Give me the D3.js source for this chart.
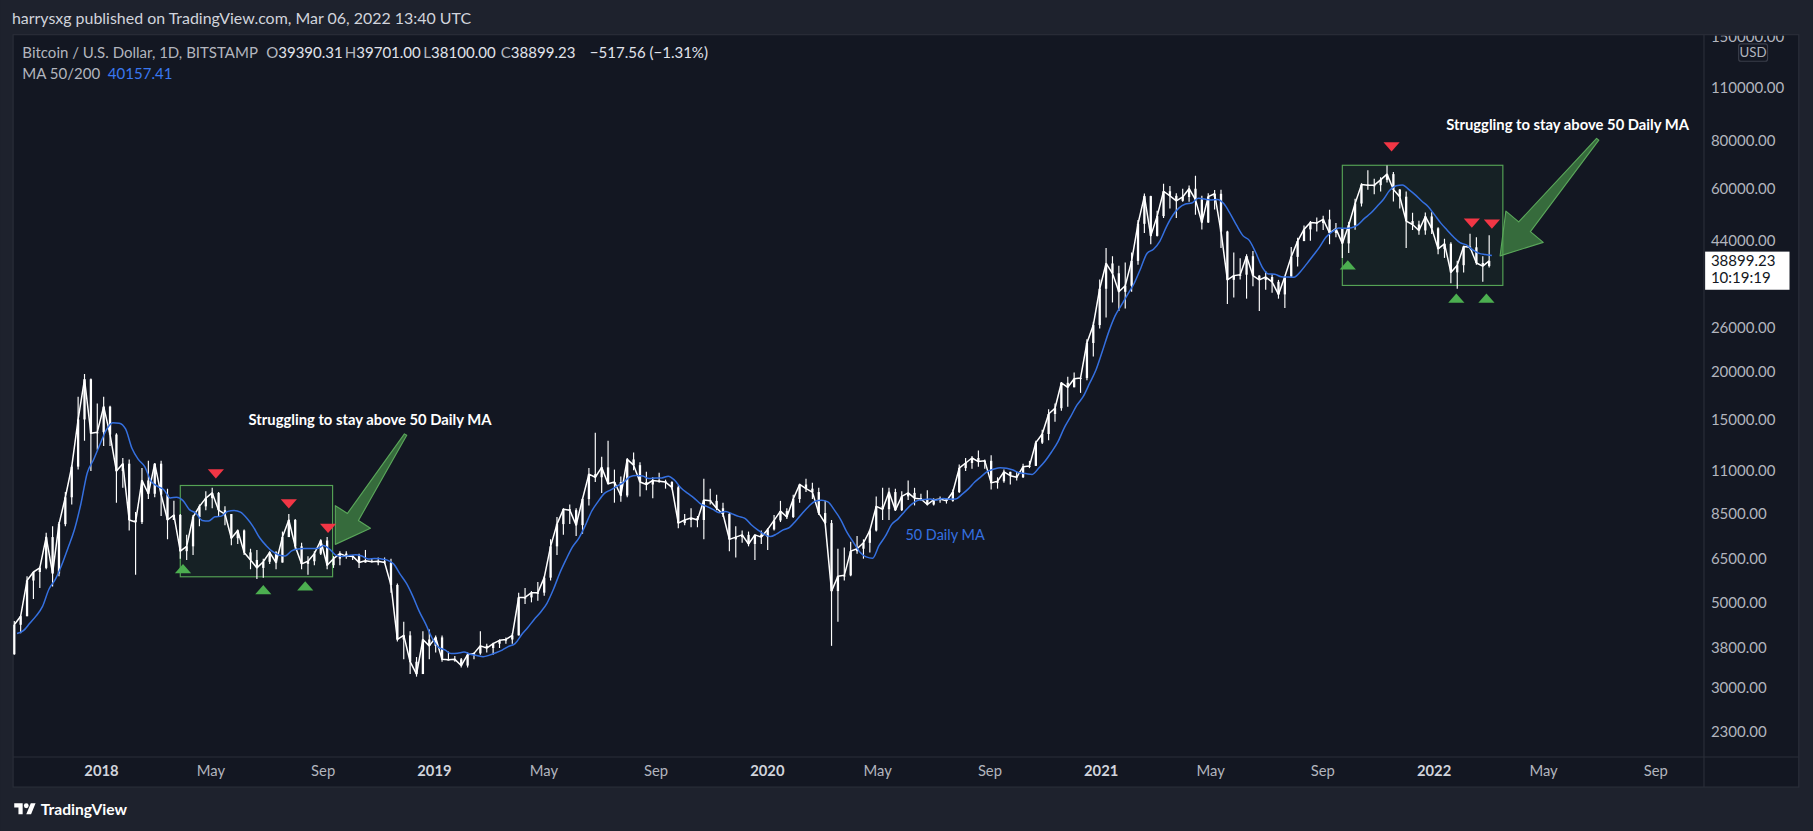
<!DOCTYPE html>
<html>
<head>
<meta charset="utf-8">
<title>BTCUSD 1D</title>
<script src="https://cdn.jsdelivr.net/npm/d3@7/dist/d3.min.js"></script>
<style>
  html, body { margin: 0; padding: 0; background: #1e222d; overflow: hidden; }
  svg { display: block; font-family: Lato, "Noto Sans", sans-serif; }
</style>
</head>
<body>
<svg id="chart"></svg>
<script>
// weekly candles (BITSTAMP BTCUSD), Mondays from firstWeek to lastWeek
const firstWeek = "2017-09-25", lastWeek = "2022-02-28";
const firstOpen = 3660;
const highs = [
  4470,4620,5850,6000,6200,7600,7900,8100,9700,11400,
  17200,19700,19200,16500,17200,16300,13800,11900,11800,8600,
  11200,11700,11500,11700,9900,9200,8500,7500,8450,9000,
  9750,9950,9700,8900,8500,7750,7750,6900,6850,6500,
  6800,6800,7650,8500,8250,7150,6600,6800,7300,7400,
  6600,6800,6800,6650,6700,6850,6500,6550,6550,6500,
  5600,4450,4200,3600,4200,4250,4100,4100,3720,3620,
  3580,3700,3700,4200,3900,3920,4000,4050,4150,5300,
  5450,5350,5650,5850,7300,8350,8800,9000,8800,9350,
  11200,13850,12000,13200,11100,10650,11900,12300,11600,10950,
  10600,10900,10450,10350,10100,8500,8800,8400,10500,9900,
  9550,9100,8550,7900,7700,7650,7500,7700,7800,8450,
  9200,8800,9550,10200,10500,10250,9950,9200,8200,6900,
  6950,7200,7450,7300,7750,9450,9950,9950,9900,9750,
  10400,9950,9600,9800,9350,9450,9350,9850,11450,11900,
  12050,12450,11800,12100,10600,11100,10950,10950,11500,11700,
  13200,14100,15950,16500,18800,19400,19900,19400,24300,27000,
  34800,42000,40000,37800,38500,40900,49700,58300,57500,52600,
  61800,61000,58400,60000,61200,64900,57500,58400,59500,59600,
  46600,40900,39500,40500,41300,35700,36600,35900,34700,35500,
  42300,44700,48100,49400,50500,51000,52900,48800,47400,49200,
  56500,62000,67000,63700,64300,69000,66300,59900,59000,51900,
  49500,52000,52100,47600,44400,43500,38900,42600,45800,44800,
  40000,45400
];
const lows = [
  3650,4150,4600,5100,5450,6100,5500,5850,7900,9000,
  11100,13200,11000,12500,12800,12800,9100,9950,7700,5900,
  8000,9300,9400,8400,7300,8200,6500,6450,6650,7900,
  8700,8800,8350,7950,7050,7100,6650,6100,5750,5800,
  6300,6100,6350,7400,6900,6100,5900,6250,6650,6100,
  6150,6250,6500,6450,6150,6350,6350,6250,6300,5300,
  3950,3550,3250,3200,3250,3550,3700,3500,3530,3500,
  3380,3380,3550,3650,3700,3650,3800,3900,3900,4100,
  4950,5000,5050,5200,5700,6650,7500,8000,7450,7550,
  8950,10300,9650,10150,9100,9150,9400,11050,9450,9800,
  9350,10250,9900,9850,7800,7950,7850,7850,7300,9000,
  8700,8350,6800,6550,7150,7000,6450,7100,6850,7700,
  8100,8250,8300,9100,9700,9300,8450,8000,3850,4450,
  5700,5850,6700,6500,6750,7650,8200,8200,8650,8650,
  9250,8950,9200,8950,8950,9100,9050,9150,9650,11000,
  11150,11300,11150,9850,9900,10250,10150,10400,10550,11200,
  11350,12950,13250,14800,15800,16200,18200,17600,19000,21900,
  25900,27700,30300,28800,29200,32300,38000,46000,43000,45000,
  50300,53300,50300,55500,55500,51300,47000,48800,53000,42000,
  30000,31200,34800,31000,33400,28800,32700,32100,31000,29300,
  35300,37600,43800,43900,46400,46800,43000,44800,39600,40800,
  46900,53900,59600,58000,59000,62300,55600,53300,42000,46800,
  45500,45500,45700,40500,39600,34000,32900,36300,41700,38000,
  34300,37400
];
const closes = [
  4370,4600,5700,6000,6150,7400,5950,8000,9400,11300,
  15000,19100,13800,13900,16200,13700,11000,11500,8200,8100,
  10400,9600,11500,9550,8200,8450,6800,7000,8350,8900,
  9350,9650,8700,8500,7350,7700,6750,6450,6150,6380,
  6750,6350,7400,8200,7000,6300,6400,6700,7250,6250,
  6500,6700,6600,6600,6350,6420,6380,6400,6350,5550,
  4000,4100,3500,3250,4000,3850,4050,3550,3540,3550,
  3420,3650,3680,3850,3800,3900,3980,4000,4100,5150,
  5150,5300,5300,5800,7000,8000,8750,8700,7950,9300,
  10800,10600,11250,10200,10300,9500,11800,11400,10300,10150,
  10400,10350,10300,9980,8050,8200,8300,8200,9250,9200,
  8800,8500,7300,7400,7500,7100,7500,7400,7750,8180,
  8650,8350,9300,10150,9900,9700,8550,8050,5350,5850,
  5880,6800,6900,7150,7700,8900,8750,9700,8700,9450,
  9650,9350,9300,9000,9250,9300,9200,9700,11200,11550,
  11900,11650,11700,10250,10350,10950,10700,10600,11300,11350,
  13050,13750,15500,16050,18700,18200,19150,19250,23750,26450,
  32900,38300,36100,32300,33500,38900,48600,57400,45200,50900,
  59100,57500,55800,57100,60000,56200,49000,57200,58200,46400,
  34700,35600,35800,40000,35600,34700,35300,34300,31800,35400,
  39850,43800,47000,49000,48850,49900,46000,47200,43200,48200,
  54900,61500,61300,61300,63300,65500,59700,57200,49400,48400,
  46700,50800,47300,41800,43100,36300,37900,42400,42200,38400,
  37700,38899.23
];
// 50 day MA, read at each week end
const ma50 = [
  4146,4217,4410,4610,4881,5410,5739,6257,6943,7743,
  9029,10879,11793,12929,14100,14714,14671,14171,12614,11800,
  11300,10357,10043,9836,9364,9400,9214,8729,8550,8179,
  8150,8357,8393,8636,8686,8593,8286,7871,7371,7040,
  6790,6647,6604,6811,6890,6911,6914,6907,7036,6871,
  6629,6586,6629,6657,6607,6489,6507,6493,6443,6293,
  5921,5600,5183,4736,4393,4036,3821,3757,3677,3684,
  3709,3659,3634,3606,3641,3693,3754,3837,3901,4111,
  4297,4511,4711,4971,5400,5957,6471,6979,7357,7929,
  8643,9157,9621,9829,10057,10279,10636,10721,10679,10521,
  10550,10557,10671,10411,9933,9633,9369,9054,8897,8740,
  8571,8636,8507,8379,8279,7971,7729,7529,7421,7547,
  7726,7847,8161,8540,8897,9176,9229,9143,8714,8221,
  7611,7169,6769,6569,6519,7026,7440,7986,8257,8621,
  8979,9214,9271,9307,9243,9329,9293,9300,9564,9886,
  10300,10643,10986,11136,11229,11193,11071,10886,10836,10786,
  11186,11671,12321,13086,14243,15229,16343,17229,18657,20221,
  22629,25429,27986,29864,31900,34064,37229,40729,41714,43829,
  47657,51086,53500,54714,55086,56657,56386,56114,56214,54871,
  51671,48186,45271,43986,40900,37543,35957,35900,35357,35300,
  35279,36450,38207,40164,42243,44829,46343,47393,47307,47479,
  48321,50129,51757,53943,56243,59429,61071,61400,59671,57829,
  55743,53957,51357,48800,46786,44914,43414,42800,41571,40700,
  40400,40157.41
];
const priceTicks = [150000, 110000, 80000, 60000, 44000, 26000, 20000, 15000, 11000, 8500, 6500, 5000, 3800, 3000, 2300];

// drawings on the chart, in date / price
const boxes = [
  {from: "2018-03-29", to: "2018-09-12", top: 10090, bottom: 5830},
  {from: "2021-09-23", to: "2022-03-18", top: 69080, bottom: 33560}
];
const sellMarks = [
  ["2018-05-07", 10820], ["2018-07-26", 9030], ["2018-09-07", 7800],
  ["2021-11-16", 77200], ["2022-02-12", 48800], ["2022-03-06", 48500]
];
const buyMarks = [
  ["2018-04-01", 6120], ["2018-06-28", 5400], ["2018-08-13", 5520],
  ["2021-09-29", 38000], ["2022-01-26", 31100], ["2022-02-28", 31100]
];
const notes = [
  ["2018-10-23", 15000, "Struggling to stay above 50 Daily MA"],
  ["2022-05-28", 88100, "Struggling to stay above 50 Daily MA"]
];
const arrows = [
  {tail: ["2018-12-01", 13700], tip: ["2018-09-15", 7085]},
  {tail: ["2022-06-30", 80770], tip: ["2022-03-15", 40070]}
];
const maLabel = ["2020-06-01", 7490, "50 Daily MA"];
const lastPrice = 38899.23, lastTime = "10:19:19";

const legendParts = [
  {x: 19, label: "Bitcoin / U.S. Dollar, 1D, BITSTAMP", value: ""},
  {x: 230, label: "O", value: "39390.31"},
  {x: 298, label: "H", value: "39701.00"},
  {x: 366, label: "L", value: "38100.00"},
  {x: 433, label: "C", value: "38899.23"},
  {x: 510, label: "", value: "\u2212517.56 (\u22121.31%)"}
];

const parseDay = d3.timeParse("%Y-%m-%d");
const W = 1568, H = 719;
const plot = {x0: 11, y0: 30, x1: 1474, y1: 655};
const panelRight = 1556, panelBottom = 681;

const svg = d3.select("#chart")
  .attr("width", 1813)
  .attr("height", 831)
  .attr("viewBox", `0 0 ${W} ${H}`);

// scales: year starts sit at fixed spots on the time axis
const anchor = d3.scaleTime()
  .domain([parseDay("2018-01-01"), parseDay("2022-01-01")])
  .range([87, 1240]);
const x = d3.scaleTime()
  .domain([anchor.invert(plot.x0), anchor.invert(plot.x1)])
  .range([plot.x0, plot.x1]);
const y = d3.scaleLog()
  .domain([2300, 110000])
  .range([633, 76]);

svg.append("rect").attr("width", W).attr("height", H).attr("fill", "#1e222d");
svg.append("rect")
  .attr("x", plot.x0).attr("y", plot.y0)
  .attr("width", panelRight - plot.x0).attr("height", panelBottom - plot.y0)
  .attr("fill", "#131722").attr("stroke", "#2a2e39");
svg.append("line").attr("x1", plot.x1).attr("x2", plot.x1).attr("y1", plot.y0).attr("y2", panelBottom).attr("stroke", "#2a2e39");
svg.append("line").attr("x1", plot.x0).attr("x2", panelRight).attr("y1", plot.y1).attr("y2", plot.y1).attr("stroke", "#2a2e39");

const defs = svg.append("defs");
defs.append("clipPath").attr("id", "plotClip").append("rect")
  .attr("x", plot.x0).attr("y", plot.y0).attr("width", plot.x1 - plot.x0).attr("height", plot.y1 - plot.y0);
defs.append("clipPath").attr("id", "axisClip").append("rect")
  .attr("x", plot.x1).attr("y", plot.y0 + 1).attr("width", panelRight - plot.x1).attr("height", plot.y1 - plot.y0);

const g = svg.append("g").attr("clip-path", "url(#plotClip)");

// rectangles behind the candles
g.append("g").selectAll("rect").data(boxes).join("rect")
  .attr("x", d => x(parseDay(d.from)))
  .attr("y", d => y(d.top))
  .attr("width", d => x(parseDay(d.to)) - x(parseDay(d.from)))
  .attr("height", d => y(d.bottom) - y(d.top))
  .attr("fill", "rgba(76,175,80,0.07)")
  .attr("stroke", "#55a355")
  .attr("stroke-width", 1);

// candles
const weeks = d3.timeMonday.range(parseDay(firstWeek), d3.timeDay.offset(parseDay(lastWeek), 1));
const candles = weeks.map((w, i) => ({
  date: d3.timeDay.offset(w, 3),
  open: i ? closes[i - 1] : firstOpen,
  high: highs[i], low: lows[i], close: closes[i]
}));
const bw = (x(weeks[1]) - x(weeks[0])) * 0.36;

const cg = g.append("g");
cg.append("path")
  .datum(candles)
  .attr("fill", "none").attr("stroke", "#ffffff").attr("stroke-width", 1.3)
  .attr("stroke-linejoin", "round")
  .attr("d", d3.line().x(d => x(d.date)).y(d => y(d.close)));
cg.selectAll("line.wick").data(candles).join("line").attr("class", "wick")
  .attr("x1", d => x(d.date)).attr("x2", d => x(d.date))
  .attr("y1", d => y(d.high)).attr("y2", d => y(d.low))
  .attr("stroke", "#ffffff").attr("stroke-width", 1);
cg.selectAll("rect.body").data(candles).join("rect").attr("class", "body")
  .attr("x", d => x(d.date) - bw / 2).attr("width", bw)
  .attr("y", d => y(Math.max(d.open, d.close)))
  .attr("height", d => Math.max(1, Math.abs(y(d.open) - y(d.close))))
  .attr("fill", "#ffffff");

// 50 day moving average
g.append("path")
  .datum(ma50.map((v, i) => ({date: d3.timeDay.offset(weeks[i], 6), v})))
  .attr("fill", "none").attr("stroke", "#3570e0").attr("stroke-width", 1.3)
  .attr("d", d3.line().curve(d3.curveMonotoneX).x(d => x(d.date)).y(d => y(d.v)));

g.append("text")
  .attr("x", x(parseDay(maLabel[0]))).attr("y", y(maLabel[1]))
  .attr("dy", "0.35em").attr("fill", "#3570e0").attr("font-size", 12.5)
  .text(maLabel[2]);

// arrows
function arrowPath(t, p) {
  const dx = p[0] - t[0], dy = p[1] - t[1], L = Math.hypot(dx, dy);
  const ux = dx / L, uy = dy / L, nx = -uy, ny = ux;
  const hl = L * 0.25, hw = L * 0.16, sw = L * 0.05, tw = 1.2;
  const bx = p[0] - ux * hl, by = p[1] - uy * hl;
  const pts = [
    [t[0] + nx * tw, t[1] + ny * tw],
    [bx + nx * sw, by + ny * sw],
    [bx + nx * hw, by + ny * hw],
    p,
    [bx - nx * hw, by - ny * hw],
    [bx - nx * sw, by - ny * sw],
    [t[0] - nx * tw, t[1] - ny * tw]
  ];
  return "M" + pts.map(q => q[0].toFixed(1) + "," + q[1].toFixed(1)).join("L") + "Z";
}
g.append("g").selectAll("path").data(arrows).join("path")
  .attr("d", d => arrowPath(
    [x(parseDay(d.tail[0])), y(d.tail[1])],
    [x(parseDay(d.tip[0])), y(d.tip[1])]))
  .attr("fill", "rgba(76,160,76,0.62)")
  .attr("stroke", "#5aa65a").attr("stroke-width", 1).attr("stroke-linejoin", "round");

// sell / buy markers
g.append("g").selectAll("path").data(sellMarks).join("path")
  .attr("d", d => {
    const cx = x(parseDay(d[0])), cy = y(d[1]);
    return `M${cx - 7},${cy - 4}L${cx + 7},${cy - 4}L${cx},${cy + 4}Z`;
  })
  .attr("fill", "#f23645");
g.append("g").selectAll("path").data(buyMarks).join("path")
  .attr("d", d => {
    const cx = x(parseDay(d[0])), cy = y(d[1]);
    return `M${cx - 7},${cy + 4}L${cx + 7},${cy + 4}L${cx},${cy - 4}Z`;
  })
  .attr("fill", "#4caf50");

g.append("g").selectAll("text").data(notes).join("text")
  .attr("x", d => x(parseDay(d[0]))).attr("y", d => y(d[1]))
  .attr("dy", "0.35em").attr("text-anchor", "middle")
  .attr("fill", "#ffffff").attr("font-size", 12.8).attr("font-weight", 700)
  .text(d => d[2]);

// price axis
const yAxisG = svg.append("g")
  .attr("clip-path", "url(#axisClip)")
  .append("g")
  .attr("transform", `translate(${plot.x1},0)`)
  .call(d3.axisRight(y).tickValues(priceTicks).tickFormat(d3.format(".2f")).tickSize(0).tickPadding(6));
yAxisG.select(".domain").remove();
yAxisG.attr("font-family", null).attr("font-size", 13);
yAxisG.selectAll("text").attr("fill", "#b2b5be");

svg.append("rect")
  .attr("x", 1504).attr("y", 38).attr("width", 25).attr("height", 15).attr("rx", 2)
  .attr("fill", "#131722").attr("stroke", "#3a3e4a");
svg.append("text").attr("x", 1516.5).attr("y", 45.5).attr("dy", "0.35em")
  .attr("text-anchor", "middle").attr("font-size", 11.5).attr("fill", "#b2b5be").text("USD");

const py = y(lastPrice);
svg.append("rect").attr("x", plot.x1 + 1).attr("y", py - 8).attr("width", 73).attr("height", 33)
  .attr("fill", "#ffffff");
svg.append("text").attr("x", plot.x1 + 6).attr("y", py).attr("dy", "0.35em")
  .attr("font-size", 13).attr("fill", "#131722").text(d3.format(".2f")(lastPrice));
svg.append("text").attr("x", plot.x1 + 6).attr("y", py + 15).attr("dy", "0.35em")
  .attr("font-size", 13).attr("fill", "#131722").text(lastTime);

// time axis
const fmtYear = d3.timeFormat("%Y"), fmtMon = d3.timeFormat("%b");
const xAxisG = svg.append("g")
  .attr("transform", `translate(0,${plot.y1})`)
  .call(d3.axisBottom(x).ticks(d3.timeMonth.every(4))
    .tickFormat(d => d.getMonth() === 0 ? fmtYear(d) : fmtMon(d))
    .tickSize(0).tickPadding(7));
xAxisG.select(".domain").remove();
xAxisG.attr("font-family", null).attr("font-size", 12.8);
xAxisG.selectAll("text")
  .attr("fill", d => d.getMonth() === 0 ? "#d1d4dc" : "#b2b5be")
  .attr("font-weight", d => d.getMonth() === 0 ? 700 : 400);

// legend
const legend = svg.append("g").attr("font-size", 13);
legendParts.forEach(p => {
  const t = legend.append("text").attr("x", p.x).attr("y", 50);
  t.append("tspan").attr("fill", "#b2b5be").text(p.label);
  t.append("tspan").attr("fill", "#e0e3eb").text(p.value);
});
legend.append("text").attr("x", 19).attr("y", 68).attr("fill", "#b2b5be").text("MA 50/200");
legend.append("text").attr("x", 93).attr("y", 68).attr("fill", "#3a78f0").text("40157.41");

// header and footer
svg.append("text").attr("x", 10).attr("y", 21).attr("font-size", 13.8).attr("fill", "#d1d4dc")
  .text("harrysxg published on TradingView.com, Mar 06, 2022 13:40 UTC");

const logo = svg.append("g").attr("transform", "translate(12,693) scale(0.52)").attr("fill", "#ffffff");
logo.append("path").attr("d", "M14 22H7V11H0V4h14v18zM28 22h-8l7.5-18h8L28 22z");
logo.append("circle").attr("cx", 20).attr("cy", 8).attr("r", 4);
svg.append("text").attr("x", 35).attr("y", 705).attr("font-size", 13.5).attr("font-weight", 700)
  .attr("fill", "#ffffff").text("TradingView");
</script>
</body>
</html>
